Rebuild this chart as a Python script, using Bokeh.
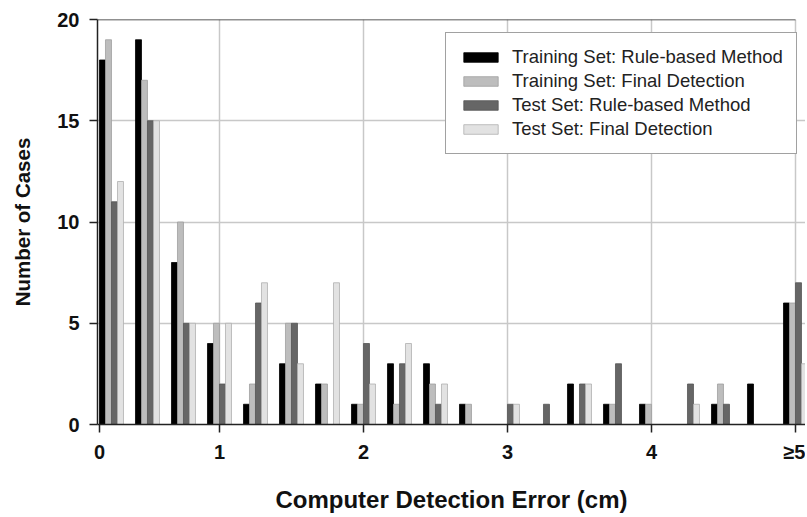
from bokeh.plotting import figure
from bokeh.models import ColumnDataSource, FixedTicker, Legend, LegendItem
from bokeh.transform import dodge
from bokeh.embed import file_html
from bokeh.resources import INLINE

# Bin centres (cm); the last bin collects errors >= 5 cm
bins = [0.25, 0.5, 0.75, 1.0, 1.25, 1.5, 1.75, 2.0, 2.25, 2.5,
        2.75, 3.0, 3.25, 3.5, 3.75, 4.0, 4.25, 4.5, 4.75, 5.0]
train_rule = [18, 19, 8, 4, 1, 3, 2, 1, 3, 3, 1, 0, 0, 2, 1, 1, 0, 1, 2, 6]
train_final = [19, 17, 10, 5, 2, 5, 2, 1, 1, 2, 1, 0, 0, 0, 1, 1, 0, 2, 0, 6]
test_rule = [11, 15, 5, 2, 6, 5, 0, 4, 3, 1, 0, 1, 1, 2, 3, 0, 2, 1, 0, 7]
test_final = [12, 15, 5, 5, 7, 3, 7, 2, 4, 2, 0, 1, 0, 2, 0, 0, 1, 0, 0, 3]

series_names = ["Training Set: Rule-based Method", "Training Set: Final Detection",
                "Test Set: Rule-based Method", "Test Set: Final Detection"]
tick_values = [1 / 6, 1, 2, 3, 4, 5]
tick_labels = ["0", "1", "2", "3", "4", "\u22655"]

fills = ["#000000", "#bdbdbd", "#666666", "#e2e2e2"]
lines = ["#000000", "#a0a0a0", "#555555", "#b0b0b0"]

src = ColumnDataSource(dict(x=bins, a=train_rule, b=train_final, c=test_rule, d=test_final))

FONT = "Liberation Sans"
X0 = 0.1528
X1 = X0 + (805 - 97) / 144

p = figure(width=805, height=515, output_backend="svg", toolbar_location=None,
           x_range=(X0, X1), y_range=(0, 20),
           min_border_left=97, min_border_right=0, min_border_top=19, min_border_bottom=89)
p.outline_line_color = None

bw = 1 / 24
offs = [-1.5 * bw, -0.5 * bw, 0.5 * bw, 1.5 * bw]
renderers = []
for key, off, fc, lc in zip(["a", "b", "c", "d"], offs, fills, lines):
    r = p.vbar(x=dodge("x", off), top=key, width=bw, bottom=0, source=src,
               fill_color=fc, line_color=lc, line_width=0.8)
    renderers.append(r)

# top frame line
p.segment(x0=[X0], y0=[20], x1=[5.0], y1=[20], line_color="#222222", line_width=1.5)

p.xaxis.ticker = FixedTicker(ticks=tick_values)
p.xaxis.major_label_overrides = {v: t for v, t in zip(tick_values, tick_labels)}
p.yaxis.ticker = FixedTicker(ticks=[0, 5, 10, 15, 20])

for ax in (p.xaxis[0], p.yaxis[0]):
    ax.axis_line_color = "#222222"
    ax.axis_line_width = 1.5
    ax.major_tick_line_color = "#222222"
    ax.major_tick_line_width = 1.5
    ax.major_tick_in = 0
    ax.major_tick_out = 8
    ax.minor_tick_line_color = None
    ax.major_label_text_font = FONT
    ax.major_label_text_font_style = "bold"
    ax.major_label_text_font_size = "20px"
    ax.major_label_text_color = "#111111"
    ax.axis_label_text_font = FONT
    ax.axis_label_text_font_style = "bold"
    ax.axis_label_text_color = "#111111"

p.xaxis.axis_label = "Computer Detection Error (cm)"
p.yaxis.axis_label = "Number of Cases"
p.xaxis.axis_label_text_font_size = "24px"
p.yaxis.axis_label_text_font_size = "20.5px"
p.xaxis.major_label_standoff = 8
p.xaxis.axis_label_standoff = 20
p.yaxis.major_label_standoff = 10
p.yaxis.axis_label_standoff = 20

p.xgrid.ticker = FixedTicker(ticks=[1, 2, 3, 4, 5])
p.ygrid.ticker = FixedTicker(ticks=[5, 10, 15])
p.xgrid.grid_line_color = "#c8c8c8"
p.ygrid.grid_line_color = "#c8c8c8"
p.xgrid.grid_line_width = 1.5
p.ygrid.grid_line_width = 1.5

legend = Legend(items=[LegendItem(label=n, renderers=[r]) for n, r in zip(series_names, renderers)],
                location=(348, 270), margin=0, padding=13, spacing=2, label_standoff=10,
                glyph_width=43, glyph_height=12, label_height=20,
                label_text_font=FONT, label_text_font_size="18.5px", label_text_color="#222222",
                border_line_color="#444444", border_line_width=1.2,
                background_fill_color="white", background_fill_alpha=1.0)
p.add_layout(legend, "center")

open("out.html", "w").write(file_html(p, INLINE))
